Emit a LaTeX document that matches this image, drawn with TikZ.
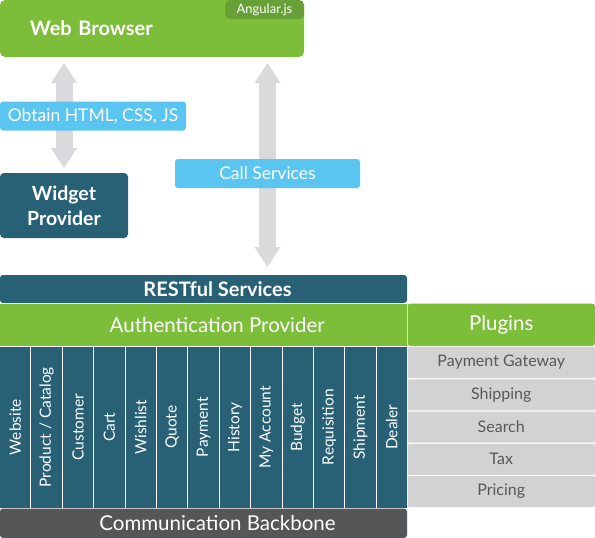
\documentclass[tikz,border=0pt]{standalone}
\usepackage{fontspec}
\setmainfont{Lato}
\usetikzlibrary{arrows.meta,backgrounds}

\definecolor{webgreen}{RGB}{124,189,58}
\definecolor{tabgreen}{RGB}{104,160,56}
\definecolor{callblue}{RGB}{91,197,242}
\definecolor{restteal}{RGB}{40,96,118}
\definecolor{arrowgray}{RGB}{218,218,221}
\definecolor{plugingray}{RGB}{210,210,210}
\definecolor{plugintext}{RGB}{88,88,88}
\definecolor{backbone}{RGB}{85,86,88}

\begin{document}
\begin{tikzpicture}[x=1pt,y=-1pt,
    box/.style={inner sep=0pt,outer sep=0pt,text=white,font=\fontsize{20.5}{24}\selectfont},
    greenbox/.style={box,fill=webgreen},
    tealbox/.style={box,fill=restteal},
    bluelabel/.style={box,fill=callblue,rounded corners=3pt,minimum height=29pt,font=\fontsize{17.5}{20}\selectfont},
    colbox/.style={tealbox,rotate=90,minimum width=160.5pt,minimum height=30.4pt,font=\fontsize{15.5}{18}\selectfont},
    plugbox/.style={box,fill=plugingray,text=plugintext,rounded corners=1.5pt,minimum width=187.5pt,minimum height=31pt,font=\fontsize{16}{19}\selectfont},
    bigarrow/.style={draw=arrowgray,line width=17pt,<->,>={Triangle[width=26pt,length=20pt,line width=0pt]}}]
    \useasboundingbox (0,0) rectangle (595,538);

    % browser and widget
    \node[greenbox,rounded corners=5pt,minimum width=304pt,minimum height=57pt,text width=244pt,inner xsep=30pt,align=left,font=\bfseries\fontsize{20}{24}\selectfont] at (152,28.5) (browser) {Web Browser};
    \node[box,fill=tabgreen,rounded corners=5pt,minimum width=79pt,minimum height=19pt,font=\fontsize{13}{15}\selectfont] at (264.5,9.5) (angular) {Angular.js};
    \node[tealbox,rounded corners=4pt,minimum width=128pt,minimum height=65pt,align=center,font=\bfseries\fontsize{19.5}{25}\selectfont] at (64,205.5) (widget) {Widget\\Provider};

    \node[bluelabel,minimum width=186pt] at (93,116) (obtain) {Obtain HTML, CSS, JS};
    \node[bluelabel,minimum width=185pt] at (267.5,173.5) (calls) {Call Services};

    % services stack
    \node[tealbox,rounded corners=3pt,minimum width=407pt,minimum height=28pt,font=\bfseries\fontsize{20}{24}\selectfont] at (203.5,289) (rest) {\hspace*{28pt}RESTful Services};
    \node[greenbox,minimum width=406.5pt,minimum height=42.5pt] at (203.25,324.75) (auth) {\hspace*{28pt}Authentication Provider};
    \node[greenbox,rounded corners=3pt,minimum width=187.5pt,minimum height=42.5pt] at (501.25,324.75) (plugins) {Plugins};

    \node[colbox] at (15.2,427.25) (website) {Website};
    \node[colbox] at (46.6,427.25) (catalog) {Product / Catalog};
    \node[colbox] at (78.0,427.25) (customer) {Customer};
    \node[colbox] at (109.4,427.25) (cart) {Cart};
    \node[colbox] at (140.8,427.25) (wishlist) {Wishlist};
    \node[colbox] at (172.2,427.25) (quote) {Quote};
    \node[colbox] at (203.6,427.25) (payment) {Payment};
    \node[colbox] at (235.0,427.25) (history) {History};
    \node[colbox] at (266.4,427.25) (account) {My Account};
    \node[colbox] at (297.8,427.25) (budget) {Budget};
    \node[colbox] at (329.2,427.25) (requisition) {Requisition};
    \node[colbox] at (360.6,427.25) (shipment) {Shipment};
    \node[colbox] at (391.8,427.25) (dealer) {Dealer};

    \node[plugbox] at (501.25,362.5) (gateway) {Payment Gateway};
    \node[plugbox] at (501.25,394.75) (shipping) {Shipping};
    \node[plugbox] at (501.25,427) (search) {Search};
    \node[plugbox] at (501.25,459.25) (tax) {Tax};
    \node[plugbox] at (501.25,491.5) (pricing) {Pricing};

    \node[box,fill=backbone,rounded corners=3pt,minimum width=407pt,minimum height=29.5pt] at (203.5,523.25) (comm) {\hspace*{28pt}Communication Backbone};

    % arrows behind the labels
    \begin{scope}[on background layer]
        \draw[bigarrow,shorten <=6pt,shorten >=5pt] (widget.north |- browser.south) -- (widget.north);
        \draw[bigarrow,shorten <=6pt,shorten >=8pt] (calls.center |- browser.south) -- (calls.center |- rest.north);
    \end{scope}
\end{tikzpicture}
\end{document}
